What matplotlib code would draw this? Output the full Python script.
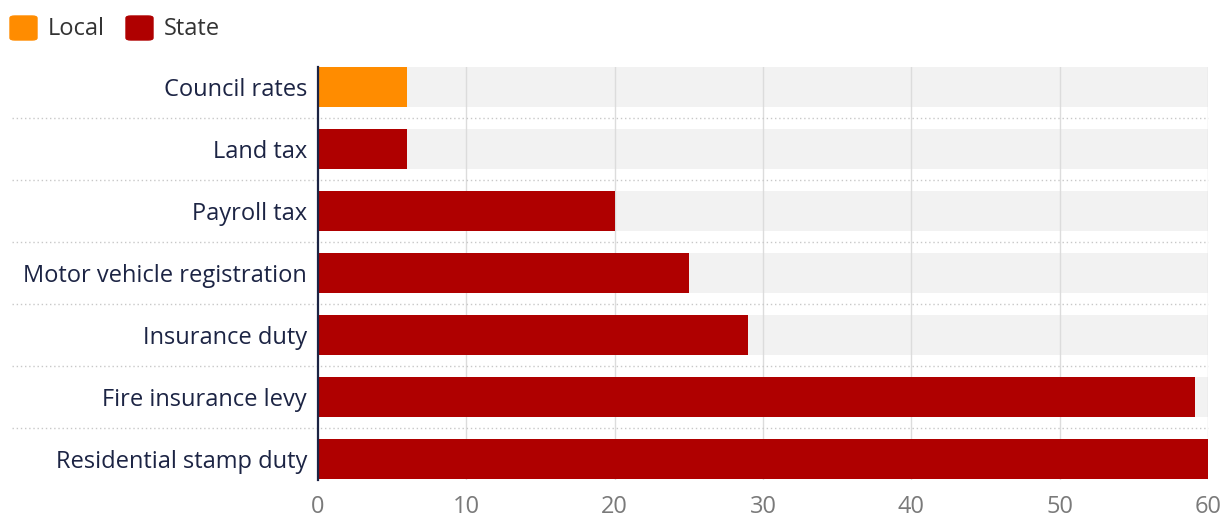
import matplotlib.pyplot as plt
from matplotlib.patches import FancyBboxPatch
from matplotlib.transforms import blended_transform_factory

plt.rcParams['font.family'] = ['Open Sans', 'DejaVu Sans']

categories = ["Council rates", "Land tax", "Payroll tax", "Motor vehicle registration",
              "Insurance duty", "Fire insurance levy", "Residential stamp duty"]
values = [6, 6, 20, 25, 29, 59.1, 61]
levels = ["Local", "State", "State", "State", "State", "State", "State"]
level_colors = {"Local": "#ff8c00", "State": "#af0000"}
x_ticks = [0, 10, 20, 30, 40, 50, 60]

fig = plt.figure(figsize=(12.2, 5.3), dpi=100)
ax = fig.add_axes([318 / 1220, 1 - 480 / 530, 890 / 1220, 413 / 530])

ypos = list(range(len(categories)))
bar_h = 0.645

# background bands
ax.barh(ypos, [60] * len(ypos), height=bar_h, color="#f2f2f2", zorder=0)
for x in x_ticks[1:]:
    ax.axvline(x, color="#dcdcdc", lw=1, zorder=1)
ax.barh(ypos, values, height=bar_h, color=[level_colors[l] for l in levels], zorder=2)

ax.set_xlim(0, 60)
ax.set_ylim(len(categories) - 1 + 0.34, -0.32)
ax.set_xticks(x_ticks)
ax.set_yticks(ypos)
ax.set_yticklabels(categories)
ax.tick_params(axis="x", length=0, pad=11, labelsize=17, labelcolor="#7a7a7a")
ax.tick_params(axis="y", length=0, pad=8, labelsize=17, labelcolor="#1c2444")
for s in ["top", "right", "bottom"]:
    ax.spines[s].set_visible(False)
ax.spines["left"].set_color("#1c2444")
ax.spines["left"].set_linewidth(1.6)
ax.spines["left"].set_zorder(5)

# dotted row separators
tr = blended_transform_factory(fig.transFigure, ax.transData)
for i in range(len(categories) - 1):
    ax.plot([12 / 1220, 1208 / 1220], [i + 0.5, i + 0.5], transform=tr, clip_on=False,
            color="#c8c8c8", lw=1, ls=(0, (1, 2)), zorder=1)

# legend
lx = 10
for name in ["Local", "State"]:
    fig.patches.append(FancyBboxPatch((lx / 1220, 1 - 40 / 530), 27 / 1220, 24 / 530,
                                      boxstyle="round,pad=0,rounding_size=0.004",
                                      transform=fig.transFigure, color=level_colors[name]))
    fig.text((lx + 38) / 1220, 1 - 29 / 530, name, fontsize=17, color="#333333",
             va="center", ha="left")
    lx += 116

plt.savefig("out.png")
